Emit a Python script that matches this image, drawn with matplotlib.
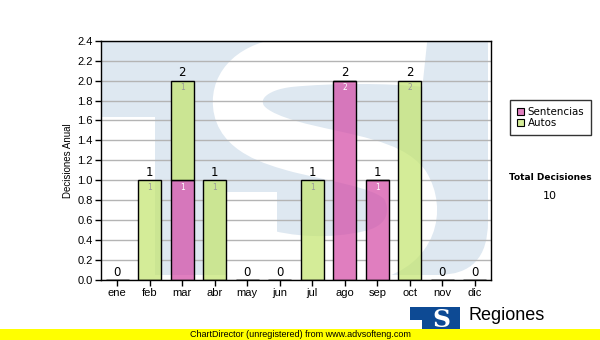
import numpy as np
import matplotlib.pyplot as plt
from matplotlib.patches import Rectangle, PathPatch, Patch
from matplotlib.path import Path

# datos del grafico
meses = ['ene', 'feb', 'mar', 'abr', 'may', 'jun', 'jul', 'ago', 'sep', 'oct', 'nov', 'dic']
sentencias = [0, 0, 1, 0, 0, 0, 0, 2, 1, 0, 0, 0]
autos = [0, 1, 1, 1, 0, 0, 1, 0, 0, 2, 0, 0]
total_decisiones = 10
y_ticks = [0.0, 0.2, 0.4, 0.6, 0.8, 1.0, 1.2, 1.4, 1.6, 1.8, 2.0, 2.2, 2.4]

col_sent = (211/255, 72/255, 164/255, 0.7)
col_autos = (195/255, 229/255, 108/255, 0.7)
azul_marca = '#dee8f1'

W, H = 600, 340
# caja del area de trazado en pixeles
X0, X1, YT, YB = 101, 491, 40.7, 280

fig = plt.figure(figsize=(6, 3.4), dpi=100)
ax = fig.add_axes([X0/W, (H-YB)/H, (X1-X0)/W, (YB-YT)/H])


def P(x, y):
    # pixel de la imagen -> coordenadas del eje
    return ((x-X0)/(X1-X0), (YB-y)/(YB-YT))


def marca_agua(z, clip=None):
    # logo "TS" de fondo
    verts = [P(101, 41), P(488, 41), P(488, 222), P(488, 275), P(438, 275),
             P(155, 275), P(155, 117), P(101, 117), P(101, 41)]
    codes = [Path.MOVETO, Path.LINETO, Path.LINETO, Path.CURVE3, Path.CURVE3,
             Path.LINETO, Path.LINETO, Path.LINETO, Path.CLOSEPOLY]
    arts = [PathPatch(Path(verts, codes), fc=azul_marca, ec='none',
                      transform=ax.transAxes, zorder=z)]
    s_verts = [P(425, 62),
               P(390, 58), P(330, 58), P(290, 62),
               P(252, 66), P(236, 85), P(238, 105),
               P(240, 130), P(270, 140), P(300, 148),
               P(350, 160), P(390, 165), P(405, 185),
               P(420, 210), P(412, 245), P(372, 255),
               P(330, 265), P(290, 262), P(255, 252)]
    s_codes = [Path.MOVETO] + [Path.CURVE4]*18
    arts.append(PathPatch(Path(s_verts, s_codes), fill=False, ec='white', lw=36,
                          capstyle='butt', transform=ax.transAxes, zorder=z))
    a, b = P(227, 275), P(277, 192)
    arts.append(Rectangle(a, b[0]-a[0], b[1]-a[1], fc='white', ec='none',
                          transform=ax.transAxes, zorder=z))
    for art in arts:
        ax.add_patch(art)
        if clip is not None:
            art.set_clip_path(clip, ax.transData)


x = np.arange(len(meses))
ancho = 0.7
marca_agua(0.2)

# fondo blanco bajo las barras para tapar la rejilla
b1 = ax.bar(x, sentencias, ancho, color='white', zorder=2)
b2 = ax.bar(x, autos, ancho, bottom=sentencias, color='white', zorder=2)
rects = [r for r in list(b1) + list(b2) if r.get_height() > 0]
clip = Path.make_compound_path(*[r.get_patch_transform().transform_path(r.get_path())
                                 for r in rects])
marca_agua(2.2, clip)

ax.bar(x, sentencias, ancho, color=col_sent, edgecolor='black', lw=1, zorder=3)
ax.bar(x, autos, ancho, bottom=sentencias, color=col_autos, edgecolor='black', lw=1, zorder=3)

totales = [s+a for s, a in zip(sentencias, autos)]
for i in range(len(meses)):
    ax.annotate(str(totales[i]), (x[i], totales[i]), xytext=(0, 1), textcoords='offset points',
                ha='center', va='bottom', fontsize=8.5, family='DejaVu Sans', zorder=5)
    if sentencias[i] > 0:
        ax.annotate(str(sentencias[i]), (x[i], sentencias[i]), xytext=(0, -2),
                    textcoords='offset points', ha='center', va='top', fontsize=5.5,
                    color='white', family='DejaVu Sans', zorder=5)
    if autos[i] > 0:
        ax.annotate(str(autos[i]), (x[i], totales[i]), xytext=(0, -2),
                    textcoords='offset points', ha='center', va='top', fontsize=5.5,
                    color='#9a9a9a', family='DejaVu Sans', zorder=5)

ax.set_xlim(-0.5, len(meses)-0.5)
ax.set_ylim(0, 2.4)
ax.set_yticks(y_ticks)
ax.set_yticklabels(['%.1f' % t for t in y_ticks], fontsize=8, family='Liberation Sans')
ax.set_xticks(x)
ax.set_xticklabels(meses, fontsize=8, family='Liberation Sans')
ax.tick_params(direction='out', length=4, width=1, color='black', pad=2)
ax.set_axisbelow(True)
ax.yaxis.grid(True, color='#b4b4b4', lw=1)
for sp in ax.spines.values():
    sp.set_linewidth(1)
    sp.set_zorder(6)
ax.set_ylabel('Decisiones Anual', fontsize=7, family='Liberation Sans', labelpad=3)

# leyenda
handles = [Patch(fc='#e07fbf', ec='black', lw=0.8, label='Sentencias'),
           Patch(fc='#d5ed98', ec='black', lw=0.8, label='Autos')]
leg = fig.legend(handles=handles, loc='upper left', bbox_to_anchor=(510/W, 1-100/H),
                 prop={'family': 'DejaVu Sans', 'size': 7.4}, frameon=True, fancybox=False,
                 handlelength=0.7, handleheight=0.7, handletextpad=0.3, borderpad=0.7,
                 labelspacing=0.1, borderaxespad=0)
leg.get_frame().set_edgecolor('black')
leg.get_frame().set_linewidth(1)

fig.text(550/W, 1-178/H, 'Total Decisiones', ha='center', va='center', fontsize=6.5,
         fontweight='bold', family='DejaVu Sans')
fig.text(550/W, 1-196/H, str(total_decisiones), ha='center', va='center', fontsize=8,
         family='DejaVu Sans')

# logo y pie
fig.patches.append(Rectangle((410/W, 10/H), 50/W, 23/H, fc='#0d4a94', ec='none',
                             transform=fig.transFigure, figure=fig))
fig.patches.append(Rectangle((410/W, 10/H), 12/W, 10/H, fc='white', ec='none',
                             transform=fig.transFigure, figure=fig))
fig.text(441/W, 1-320/H, 'S', color='white', ha='center', va='center', fontsize=18,
         fontweight='bold', family='DejaVu Serif')
fig.text(469/W, 1-316/H, 'Regiones', ha='left', va='center', fontsize=13,
         family='Liberation Sans')
fig.patches.append(Rectangle((0, 0), 1, 11/H, fc='#ffff00', ec='none',
                             transform=fig.transFigure, figure=fig, zorder=5))
fig.text(190/W, 5.5/H, 'ChartDirector (unregistered) from www.advsofteng.com', ha='left',
         va='center', fontsize=6.5, family='Liberation Sans', zorder=6)

fig.savefig('out.png', dpi=100)
